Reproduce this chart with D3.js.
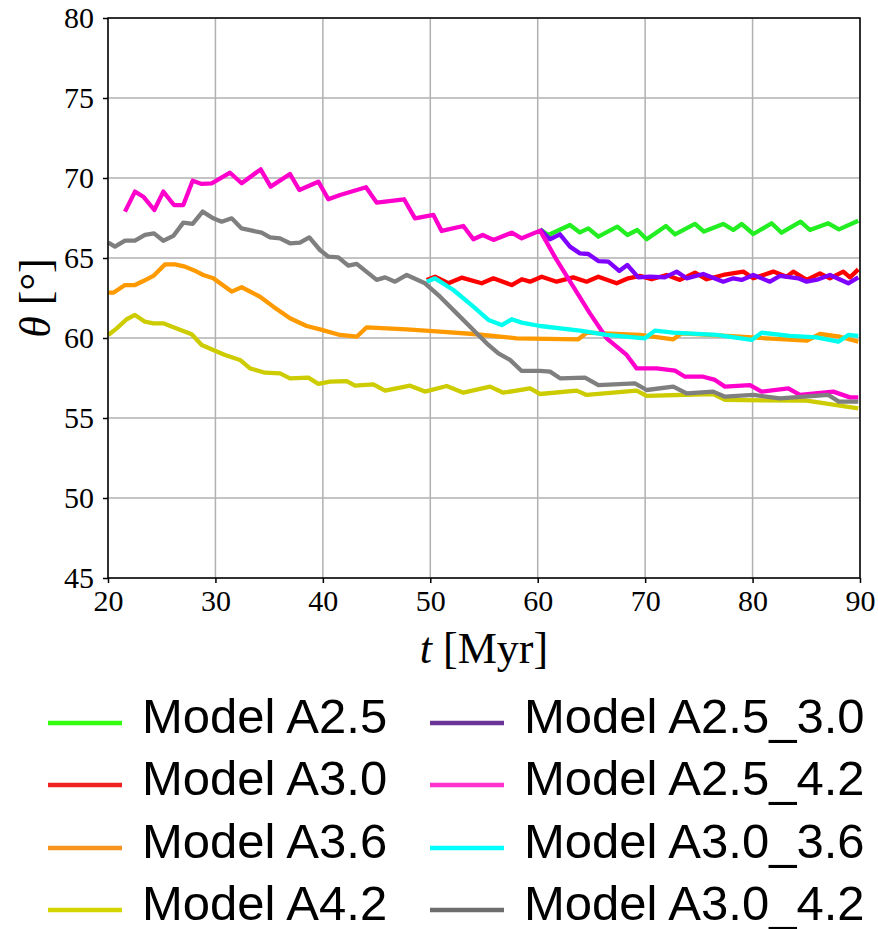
<!DOCTYPE html>
<html>
<head>
<meta charset="utf-8">
<script src="https://cdn.jsdelivr.net/npm/d3@7"></script>
<style>
  html, body { margin: 0; padding: 0; background: #fff; }
  svg { display: block; }
</style>
</head>
<body>
<svg id="chart" width="878" height="929"></svg>
<script>
// ---------- data (t [Myr], theta [deg]) ----------
const xTicks = [20, 30, 40, 50, 60, 70, 80, 90];
const yTicks = [45, 50, 55, 60, 65, 70, 75, 80];

const modelNames = ["Model A2.5", "Model A3.0", "Model A3.6", "Model A4.2",
                    "Model A2.5_3.0", "Model A2.5_4.2", "Model A3.0_3.6", "Model A3.0_4.2"];

const dataA25 = [[60.21,66.79],[60.99,66.44],[63.00,67.06],[63.93,66.60],[64.71,66.85],[65.64,66.33],
  [67.41,66.96],[68.34,66.44],[69.27,66.75],[70.14,66.17],[71.94,67.00],[72.78,66.48],[74.64,67.13],
  [75.47,66.65],[77.27,67.13],[78.21,66.75],[78.98,67.13],[80.07,66.50],[81.77,67.17],[82.70,66.58],
  [84.47,67.27],[85.34,66.75],[87.05,67.17],[88.04,66.79],[89.84,67.33]];

const dataA30 = [[49.67,63.63],[50.44,63.83],[51.68,63.42],[52.92,63.77],[54.79,63.42],[55.87,63.73],
  [57.58,63.31],[58.51,63.67],[59.29,63.52],[60.37,63.83],[61.76,63.52],[63.31,63.79],[64.55,63.52],
  [65.64,63.83],[67.35,63.42],[68.43,63.73],[69.52,63.88],[70.60,63.67],[72.00,63.94],[73.24,63.63],
  [74.64,64.08],[75.72,63.67],[77.27,63.94],[79.14,64.15],[80.07,63.73],[81.93,64.15],[83.17,63.83],
  [83.79,64.15],[85.03,63.63],[86.27,64.04],[87.20,63.73],[88.44,64.15],[89.07,63.79],[89.84,64.29]];

const dataA36 = [[20.03,62.83],[20.50,62.83],[21.58,63.31],[22.51,63.31],[23.29,63.56],[24.22,63.88],
  [25.31,64.60],[26.24,64.60],[27.17,64.46],[28.25,64.15],[28.87,63.94],[29.80,63.73],[31.51,62.90],
  [32.44,63.17],[34.15,62.58],[35.39,61.96],[36.94,61.23],[38.49,60.75],[39.73,60.54],[41.60,60.19],
  [43.15,60.08],[44.08,60.67],[47.81,60.54],[50.91,60.40],[54.01,60.25],[58.04,59.98],[63.78,59.92],
  [64.56,60.33],[69.52,60.19],[72.62,59.92],[73.40,60.29],[78.83,60.08],[85.03,59.83],[86.27,60.25],
  [88.13,60.08],[89.84,59.77]];

const dataA42 = [[20.03,60.19],[20.81,60.60],[21.74,61.17],[22.51,61.44],[23.44,61.02],[24.22,60.92],
  [25.15,60.92],[26.39,60.60],[27.79,60.23],[28.72,59.56],[29.80,59.25],[30.89,58.94],[32.29,58.63],
  [33.22,58.10],[34.61,57.83],[36.01,57.79],[36.94,57.48],[38.65,57.52],[39.58,57.13],[40.66,57.27],
  [42.21,57.31],[42.99,57.02],[44.70,57.10],[45.79,56.71],[48.12,57.02],[49.51,56.65],[51.53,57.00],
  [53.08,56.58],[55.56,56.96],[56.80,56.58],[59.29,56.85],[60.22,56.50],[63.63,56.71],[64.56,56.44],
  [69.21,56.71],[70.14,56.38],[76.34,56.50],[77.43,56.13],[85.03,56.08],[89.84,55.60]];

const dataA25_30 = [[60.21,66.79],[61.14,66.17],[62.07,66.48],[63.00,65.71],[63.93,65.29],[64.71,65.25],
  [65.64,64.81],[66.57,64.77],[67.59,64.19],[68.34,64.56],[69.36,63.79],[70.45,63.83],[71.84,63.79],
  [72.93,64.15],[73.86,63.73],[75.41,64.00],[77.27,63.52],[78.21,63.73],[78.98,63.63],[80.07,63.94],
  [81.62,63.52],[82.55,63.88],[84.26,63.73],[85.03,63.52],[86.12,63.67],[87.20,63.94],[88.91,63.42],
  [89.84,63.79]];

const dataA25_42 = [[21.58,67.90],[22.51,69.15],[23.29,68.83],[24.31,68.00],[25.15,69.15],[26.14,68.31],
  [27.01,68.31],[27.88,69.83],[28.72,69.63],[29.65,69.67],[31.36,70.33],[32.44,69.67],[34.21,70.54],
  [35.14,69.46],[36.94,70.25],[37.81,69.25],[39.58,69.77],[40.51,68.67],[41.60,68.94],[44.02,69.42],
  [45.01,68.46],[47.56,68.67],[48.58,67.48],[50.29,67.69],[51.06,66.69],[53.08,67.00],[54.01,66.17],
  [54.88,66.44],[55.87,66.13],[57.58,66.58],[58.51,66.23],[60.22,66.71],[61.76,64.88],[63.31,63.21],
  [64.86,61.54],[66.42,59.98],[68.28,58.94],[69.21,58.10],[71.07,58.10],[72.78,57.96],[73.71,57.58],
  [75.41,57.58],[76.50,57.38],[77.43,56.96],[79.76,57.06],[80.84,56.65],[83.32,56.85],[84.41,56.44],
  [87.51,56.65],[89.07,56.29],[89.84,56.29]];

const dataA30_36 = [[49.67,63.52],[50.44,63.73],[52.15,63.00],[54.01,61.96],[55.41,61.13],[56.65,60.81],
  [57.58,61.17],[58.51,60.96],[60.22,60.75],[63.93,60.46],[66.42,60.19],[69.98,59.98],[70.91,60.46],
  [72.62,60.33],[76.65,60.19],[79.91,59.88],[80.84,60.33],[83.48,60.13],[85.96,60.04],[87.98,59.77],
  [88.91,60.19],[89.84,60.13]];

const dataA30_42 = [[20.03,65.96],[20.65,65.71],[21.58,66.08],[22.51,66.08],[23.44,66.44],[24.28,66.54],
  [25.15,66.08],[26.08,66.38],[27.01,67.21],[27.88,67.13],[28.81,67.90],[29.80,67.48],[30.58,67.27],
  [31.51,67.48],[32.44,66.85],[33.53,66.69],[34.30,66.58],[35.08,66.29],[36.01,66.23],[36.94,65.92],
  [37.87,65.96],[38.74,66.29],[39.73,65.50],[40.51,65.08],[41.44,65.04],[42.37,64.52],[43.15,64.63],
  [45.01,63.63],[45.79,63.79],[46.72,63.52],[47.81,63.94],[49.51,63.42],[50.91,62.58],[52.46,61.54],
  [54.01,60.50],[55.25,59.67],[56.34,59.04],[57.42,58.63],[58.51,57.94],[60.22,57.94],[61.15,57.90],
  [62.08,57.48],[64.40,57.52],[65.65,57.06],[69.05,57.17],[70.14,56.75],[72.62,56.96],[73.86,56.54],
  [76.34,56.65],[77.43,56.33],[80.07,56.44],[82.55,56.23],[87.05,56.44],[88.04,56.02],[89.84,56.02]];

const seriesData = [dataA25, dataA30, dataA36, dataA42, dataA25_30, dataA25_42, dataA30_36, dataA30_42];
const lineColors = ["#22ee22", "#ff0000", "#ff9900", "#cccc00", "#7f00ff", "#ff00cc", "#00ffee", "#7f7f7f"];
const legendColors = ["#33ff11", "#ee2222", "#f7941d", "#d4d400", "#6a3597", "#ff33cc", "#00ffff", "#6d6d6d"];

// ---------- layout ----------
const svg = d3.select("#chart");
const L = 108, R = 860, T = 18, B = 578;

const x = d3.scaleLinear().domain([20, 90]).range([L, R]);
const y = d3.scaleLinear().domain([45, 80]).range([B, T]);

// grid
const grid = svg.append("g");
grid.selectAll("line.vx").data(xTicks).join("line")
  .attr("x1", d => x(d)).attr("x2", d => x(d)).attr("y1", T).attr("y2", B)
  .attr("stroke", "#b0b0b0").attr("stroke-width", 1.5);
grid.selectAll("line.hy").data(yTicks).join("line")
  .attr("x1", L).attr("x2", R).attr("y1", d => y(d)).attr("y2", d => y(d))
  .attr("stroke", "#b0b0b0").attr("stroke-width", 1.5);

// lines
const lineGen = d3.line().x(d => x(d[0])).y(d => y(d[1]));
const plot = svg.append("g");
seriesData.forEach((s, i) => {
  plot.append("path").datum(s)
    .attr("d", lineGen)
    .attr("fill", "none")
    .attr("stroke", lineColors[i])
    .attr("stroke-width", 4.3)
    .attr("stroke-linejoin", "round")
    .attr("stroke-linecap", "butt");
});

// frame
svg.append("rect").attr("x", L).attr("y", T).attr("width", R - L).attr("height", B - T)
  .attr("fill", "none").attr("stroke", "#000").attr("stroke-width", 1.5);

// axes
const xAxis = d3.axisBottom(x).tickValues(xTicks).tickSize(5).tickPadding(7).tickFormat(d3.format("d"));
const yAxis = d3.axisLeft(y).tickValues(yTicks).tickSize(5).tickPadding(9).tickFormat(d3.format("d"));

const gx = svg.append("g").attr("transform", `translate(0,${B})`).call(xAxis);
const gy = svg.append("g").attr("transform", `translate(${L},0)`).call(yAxis);
[gx, gy].forEach(g => {
  g.select(".domain").remove();
  g.selectAll(".tick line").attr("stroke", "#000").attr("stroke-width", 1.5);
  g.selectAll(".tick text").attr("fill", "#000")
    .style("font-family", "'Liberation Serif', 'Times New Roman', serif")
    .style("font-size", "30px");
});

// axis titles
svg.append("text")
  .attr("x", (L + R) / 2).attr("y", 663)
  .attr("text-anchor", "middle")
  .style("font-family", "'Liberation Serif', 'Times New Roman', serif")
  .style("font-size", "44px")
  .html('<tspan font-style="italic">t</tspan> [Myr]');

svg.append("text")
  .attr("transform", `translate(50,${(T + B) / 2}) rotate(-90)`)
  .attr("text-anchor", "middle")
  .style("font-family", "'Liberation Serif', 'Times New Roman', serif")
  .style("font-size", "44px")
  .html('<tspan font-style="italic">θ</tspan> [°]');

// legend
const legRowY = [723, 785, 848, 910];
const legColX = [48, 430];
const legend = svg.append("g");
modelNames.forEach((name, i) => {
  const col = Math.floor(i / 4), row = i % 4;
  const lx = legColX[col], ly = legRowY[row];
  legend.append("line")
    .attr("x1", lx).attr("x2", lx + 74).attr("y1", ly).attr("y2", ly)
    .attr("stroke", legendColors[i]).attr("stroke-width", 4.5);
  legend.append("text")
    .attr("x", lx + 94).attr("y", ly + 10)
    .style("font-family", "'Liberation Sans', Arial, Helvetica, sans-serif")
    .style("font-size", "49px")
    .attr("fill", "#000")
    .text(name);
});
</script>
</body>
</html>
